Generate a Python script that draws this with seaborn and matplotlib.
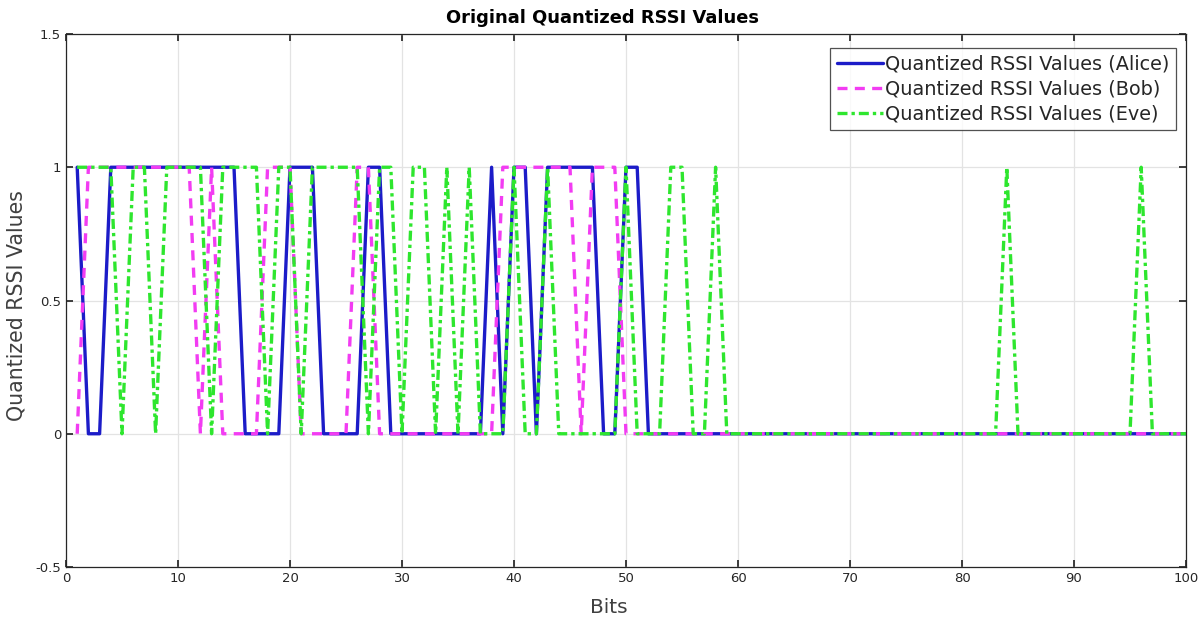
import numpy as np
import pandas as pd
import matplotlib
matplotlib.use("Agg")
import matplotlib.pyplot as plt
import seaborn as sns

bits = list(range(1, 101))

alice = [1, 0, 0, 1, 1, 1, 1, 1, 1, 1,
         1, 1, 1, 1, 1, 0, 0, 0, 0, 1,
         1, 1, 0, 0, 0, 0, 1, 1, 0, 0,
         0, 0, 0, 0, 0, 0, 0, 1, 0, 1,
         1, 0, 1, 1, 1, 1, 1, 0, 0, 1,
         1] + [0] * 49

bob = [0, 1, 1, 1, 1, 1, 1, 1, 1, 1,
       1, 0, 1, 0, 0, 0, 0, 1, 1, 1,
       0, 0, 0, 0, 0, 1, 1, 0, 0, 0,
       0, 0, 0, 0, 0, 0, 0, 0, 1, 1,
       1, 1, 1, 1, 1, 0, 1, 1, 1, 0] + [0] * 50

eve = [1, 1, 1, 1, 0, 1, 1, 0, 1, 1,
       1, 1, 0, 1, 1, 1, 1, 0, 1, 1,
       0, 1, 1, 1, 1, 1, 0, 1, 1, 0,
       1, 1, 0, 1, 0, 1, 0, 0, 0, 1,
       0, 0, 1, 0, 0, 0, 0, 0, 0, 1,
       0, 0, 0, 1, 1, 0, 0, 1, 0, 0,
       0, 0, 0, 0, 0, 0, 0, 0, 0, 0,
       0, 0, 0, 0, 0, 0, 0, 0, 0, 0,
       0, 0, 0, 1, 0, 0, 0, 0, 0, 0,
       0, 0, 0, 0, 0, 1, 0, 0, 0, 0]

labels = ["Quantized RSSI Values (Alice)",
          "Quantized RSSI Values (Bob)",
          "Quantized RSSI Values (Eve)"]

sns.set_theme(style="white")
plt.rcParams['font.family'] = ['DejaVu Sans']

fig = plt.figure(figsize=(12.04, 6.18), dpi=100)
ax = fig.add_axes([66/1204, 1-567/618, (1186-66)/1204, (567-34)/618])

df_a = pd.DataFrame({"Bits": bits, "v": alice})
df_b = pd.DataFrame({"Bits": bits, "v": bob})
df_e = pd.DataFrame({"Bits": bits, "v": eve})

sns.lineplot(data=df_a, x="Bits", y="v", ax=ax, color="#1c1cc8", lw=2.4,
             label=labels[0])
sns.lineplot(data=df_b, x="Bits", y="v", ax=ax, color="#f23cf2", lw=2.4,
             label=labels[1], linestyle=(0, (3.0, 2.2)))
sns.lineplot(data=df_e, x="Bits", y="v", ax=ax, color="#2ee62e", lw=2.4,
             label=labels[2], linestyle=(0, (3.0, 1.2, 1.0, 1.2)))

ax.set_xlim(0, 100)
ax.set_ylim(-0.5, 1.5)
ax.set_xticks(range(0, 101, 10))
ax.set_yticks([-0.5, 0, 0.5, 1, 1.5])
ax.set_yticklabels(["-0.5", "0", "0.5", "1", "1.5"])
ax.tick_params(axis="both", direction="in", length=5, labelsize=9.5,
               colors="#262626", top=True, right=True, bottom=True, left=True)
ax.grid(True, color="#e3e3e3", lw=0.9)
for s in ax.spines.values():
    s.set_color("#262626")
    s.set_linewidth(0.9)

ax.set_xlabel("Bits", fontsize=14.5, color="#404040", labelpad=7)
ax.xaxis.set_label_coords((609 - 66) / 1120, -0.058)
ax.set_ylabel("Quantized RSSI Values", fontsize=14.8, color="#404040")
ax.yaxis.set_label_coords(-(66 - 27) / 1120, 0.49)
ax.set_title("Original Quantized RSSI Values", fontsize=12.9, fontweight="bold",
             color="black", pad=8, x=(602 - 66) / 1120)

leg = ax.legend(loc="upper right", fontsize=13.9, frameon=True, fancybox=False,
                edgecolor="#262626", handlelength=2.4, handletextpad=0.1,
                borderpad=0.35, labelspacing=0.3, borderaxespad=0.0,
                bbox_to_anchor=((1176 - 66) / 1120, 1 - (48 - 34) / 533))
leg.get_frame().set_linewidth(0.9)

fig.savefig("out.png", dpi=100, facecolor="white")
